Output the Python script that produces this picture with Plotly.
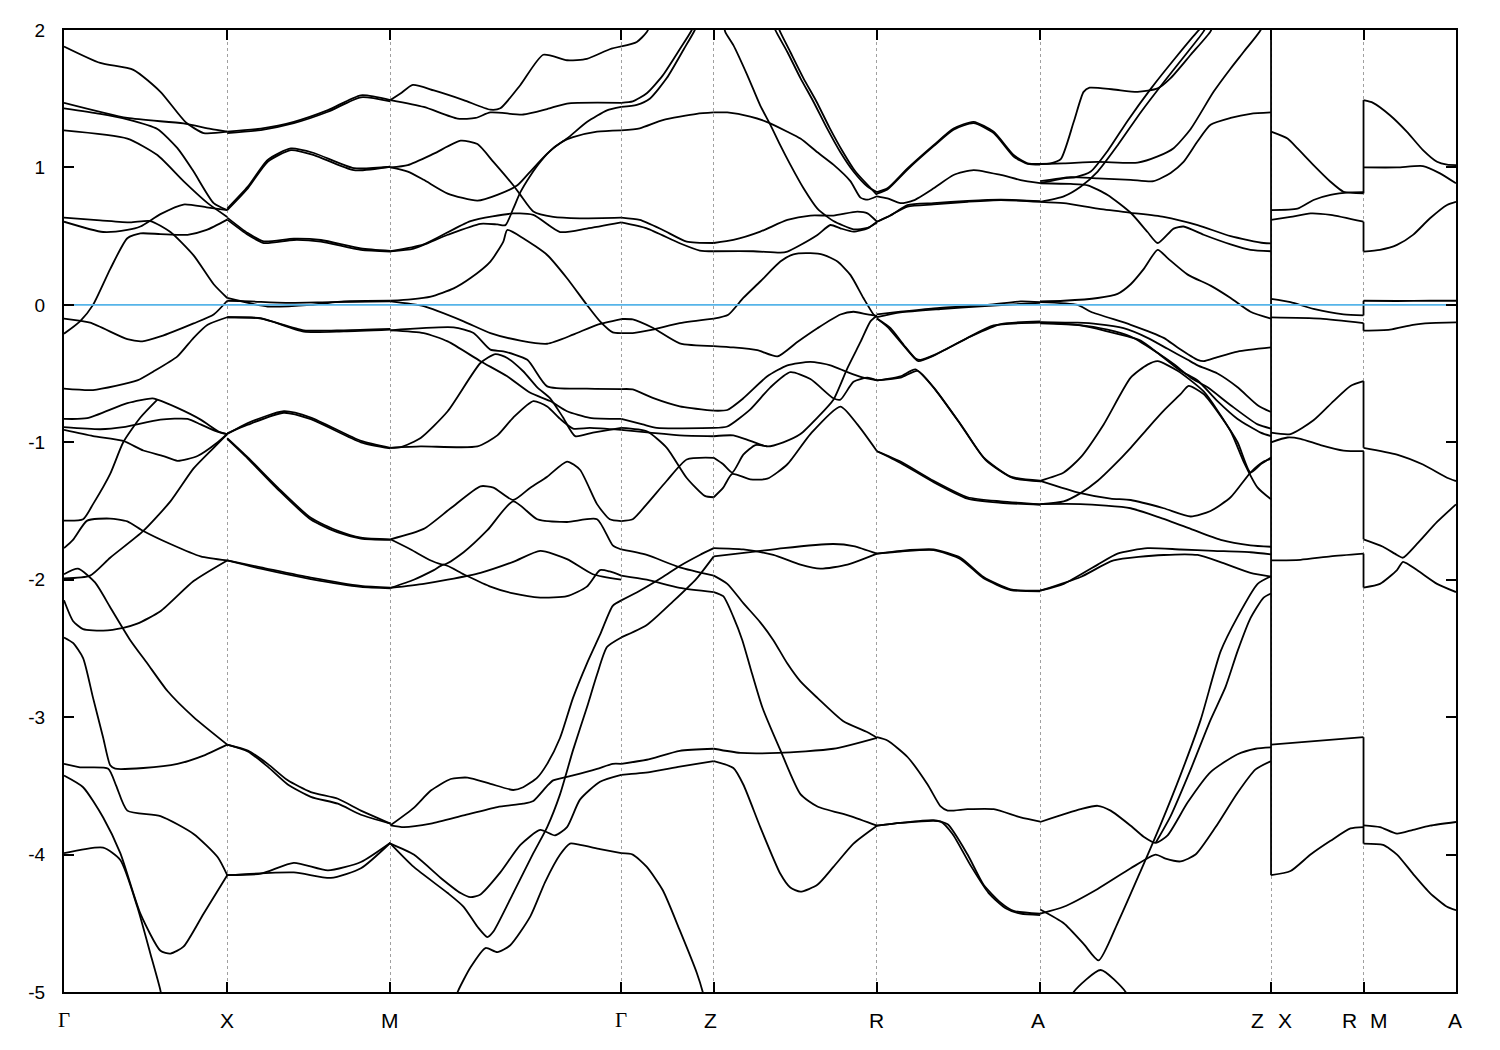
import math
import plotly.graph_objects as go

# ---------------- k-path (path length units, Gamma-X = 1) ----------------
C_RATIO = 0.5666
SEG_LEN = [1.0, 1.0, math.sqrt(2), C_RATIO, 1.0, 1.0, math.sqrt(2), C_RATIO, C_RATIO]
K_NODES = [0.0]
for L in SEG_LEN:
    K_NODES.append(K_NODES[-1] + L)

POINT_LABELS = ["Γ", "X", "M", "Γ", "Z", "R", "A", "Z", "X", "R", "M", "A"]
LABEL_NODE = [0, 1, 2, 3, 4, 5, 6, 7, 7, 8, 8, 9]

Y_TICKS = [2, 1, 0, -1, -2, -3, -4, -5]
Y_TICKTEXT = ["2", "1", "0", "-1", "-2", "-3", "-4", "-5"]

# ---------------- bands per segment: (fraction along segment, energy eV) ----------------
GX = [
    [(0, 1.88), (0.222, 1.76), (0.425, 1.71), (0.591, 1.55), (0.745, 1.33), (0.855, 1.25), (1, 1.26)],
    [(0, 1.47), (0.388, 1.36), (0.732, 1.32), (0.898, 1.28), (1, 1.26)],
    [(0, 1.43), (0.222, 1.39), (0.388, 1.35), (0.572, 1.28), (0.695, 1.14), (0.794, 0.97), (0.917, 0.74), (1, 0.69)],
    [(0, 1.27), (0.388, 1.21), (0.572, 1.09), (0.732, 0.90), (0.88, 0.74), (1, 0.64)],
    [(0, 0.635), (0.222, 0.615), (0.406, 0.60), (0.529, 0.61), (0.652, 0.53), (0.794, 0.36), (0.917, 0.15), (1, 0.05)],
    [(0, 0.605), (0.24, 0.53), (0.388, 0.545), (0.468, 0.57), (0.591, 0.66), (0.732, 0.73), (0.874, 0.71), (1, 0.69)],
    [(0, -0.21), (0.098, -0.12), (0.178, 0.0), (0.283, 0.26), (0.388, 0.485), (0.468, 0.52), (0.591, 0.515), (0.757, 0.51), (0.874, 0.545), (1, 0.62)],
    [(0, -0.10), (0.16, -0.13), (0.388, -0.25), (0.48, -0.265), (0.591, -0.23), (0.794, -0.135), (0.917, -0.07), (1, 0.03)],
    [(0, -0.61), (0.178, -0.62), (0.449, -0.55), (0.548, -0.485), (0.695, -0.375), (0.794, -0.24), (0.88, -0.145), (1, -0.09)],
    [(0, -0.83), (0.142, -0.825), (0.388, -0.715), (0.542, -0.68), (0.572, -0.69), (0.695, -0.75), (0.837, -0.835), (0.96, -0.93), (1, -0.94)],
    [(0, -0.89), (0.222, -0.905), (0.363, -0.89), (0.591, -0.835), (0.757, -0.83), (0.837, -0.87), (0.935, -0.92), (1, -0.94)],
    [(0, -0.91), (0.178, -0.955), (0.363, -0.99), (0.486, -1.06), (0.609, -1.10), (0.695, -1.135), (0.818, -1.10), (0.942, -1.0), (1, -0.94)],
    [(0, -1.57), (0.117, -1.56), (0.178, -1.45), (0.283, -1.23), (0.363, -1.0), (0.468, -0.82), (0.572, -0.69)],
    [(0, -1.77), (0.055, -1.71), (0.142, -1.57), (0.283, -1.555), (0.388, -1.575), (0.486, -1.645), (0.652, -1.74), (0.837, -1.83), (1, -1.86)],
    [(0, -1.99), (0.16, -1.97), (0.283, -1.84), (0.486, -1.645), (0.652, -1.43), (0.794, -1.19), (0.917, -1.04), (1, -0.94)],
    [(0, -1.96), (0.086, -1.92), (0.19, -2.02), (0.283, -2.20), (0.406, -2.44), (0.511, -2.61), (0.634, -2.81), (0.794, -3.0), (1, -3.2)],
    [(0, -2.15), (0.055, -2.30), (0.117, -2.36), (0.24, -2.37), (0.363, -2.35), (0.449, -2.32), (0.591, -2.23), (0.794, -2.01), (1, -1.86)],
    [(0, -2.42), (0.055, -2.46), (0.117, -2.57), (0.178, -2.86), (0.24, -3.15), (0.283, -3.35), (0.314, -3.375), (0.486, -3.37), (0.695, -3.34), (0.855, -3.28), (1, -3.2)],
    [(0, -3.34), (0.098, -3.365), (0.271, -3.375), (0.32, -3.5), (0.388, -3.68), (0.591, -3.72), (0.794, -3.85), (0.942, -4.02), (1, -4.15)],
    [(0, -3.425), (0.117, -3.51), (0.24, -3.73), (0.345, -3.99), (0.468, -4.43), (0.591, -4.70), (0.652, -4.72), (0.732, -4.67), (0.855, -4.43), (1, -4.15)],
    [(0, -3.99), (0.24, -3.95), (0.345, -4.04), (0.449, -4.38), (0.529, -4.72), (0.591, -4.99), (0.62, -5.2)],
]

XM = [
    [(0, 1.26), (0.206, 1.283), (0.408, 1.332), (0.617, 1.417), (0.819, 1.525), (1, 1.49)],
    [(0, 1.25), (0.206, 1.272), (0.408, 1.322), (0.617, 1.405), (0.819, 1.51), (1, 1.48)],
    [(0, 0.69), (0.126, 0.848), (0.248, 1.041), (0.39, 1.126), (0.531, 1.09), (0.776, 0.98), (1, 1.005)],
    [(0, 0.70), (0.126, 0.86), (0.248, 1.055), (0.39, 1.138), (0.531, 1.105), (0.776, 0.995), (1, 1.005)],
    [(0, 0.62), (0.126, 0.51), (0.224, 0.45), (0.408, 0.472), (0.574, 0.46), (0.819, 0.40), (1, 0.388)],
    [(0, 0.635), (0.126, 0.522), (0.224, 0.462), (0.408, 0.482), (0.574, 0.472), (0.819, 0.41), (1, 0.392)],
    [(0, 0.05), (0.248, -0.012), (0.512, 0.0), (0.715, 0.025), (1, 0.03)],
    [(0, 0.03), (0.144, 0.025), (0.359, 0.015), (0.635, 0.02), (1, 0.025)],
    [(0, -0.09), (0.206, -0.097), (0.469, -0.195), (0.715, -0.193), (1, -0.18)],
    [(0, -0.09), (0.206, -0.10), (0.469, -0.185), (0.715, -0.185), (1, -0.175)],
    [(0, -0.94), (0.126, -0.86), (0.347, -0.774), (0.512, -0.82), (0.819, -0.99), (1, -1.04)],
    [(0, -0.935), (0.126, -0.872), (0.347, -0.785), (0.512, -0.832), (0.819, -1.0), (1, -1.045)],
    [(0, -0.97), (0.126, -1.11), (0.31, -1.33), (0.512, -1.55), (0.678, -1.645), (0.819, -1.694), (1, -1.706)],
    [(0, -0.975), (0.126, -1.118), (0.31, -1.342), (0.512, -1.562), (0.678, -1.656), (0.819, -1.70), (1, -1.71)],
    [(0, -1.86), (0.206, -1.91), (0.512, -1.985), (0.819, -2.045), (1, -2.057)],
    [(0, -1.86), (0.206, -1.92), (0.512, -1.995), (0.819, -2.052), (1, -2.062)],
    [(0, -3.2), (0.126, -3.243), (0.248, -3.34), (0.371, -3.46), (0.512, -3.545), (0.678, -3.594), (0.819, -3.68), (1, -3.775)],
    [(0, -3.2), (0.126, -3.25), (0.248, -3.36), (0.371, -3.49), (0.512, -3.58), (0.678, -3.63), (0.819, -3.71), (1, -3.775)],
    [(0, -4.15), (0.206, -4.139), (0.408, -4.06), (0.617, -4.115), (0.819, -4.054), (1, -3.914)],
    [(0, -4.15), (0.408, -4.13), (0.635, -4.17), (0.819, -4.10), (1, -3.914)],
]

MG = [
    [(0, 1.49), (0.045, 1.54), (0.097, 1.60), (0.188, 1.56), (0.317, 1.49), (0.433, 1.42), (0.476, 1.43), (0.563, 1.60), (0.662, 1.82), (0.765, 1.78), (0.851, 1.79), (0.95, 1.86), (1, 1.88)],
    [(0, 1.49), (0.144, 1.44), (0.291, 1.355), (0.369, 1.36), (0.433, 1.40), (0.575, 1.385), (0.679, 1.425), (0.765, 1.465), (1, 1.47)],
    [(0, 1.0), (0.075, 1.017), (0.188, 1.10), (0.304, 1.195), (0.377, 1.17), (0.446, 1.04), (0.532, 0.87), (0.563, 0.80), (0.619, 0.68), (0.705, 0.64), (0.821, 0.63), (1, 0.635)],
    [(0, 1.0), (0.075, 0.97), (0.144, 0.91), (0.248, 0.81), (0.377, 0.758), (0.463, 0.80), (0.55, 0.87), (0.606, 0.97), (0.679, 1.10), (0.748, 1.19), (0.791, 1.22), (0.895, 1.26), (1, 1.27)],
    [(0, 0.39), (0.101, 0.41), (0.248, 0.51), (0.39, 0.59), (0.463, 0.585), (0.498, 0.58), (0.532, 0.70), (0.563, 0.82), (0.606, 0.94), (0.649, 1.04), (0.705, 1.14), (0.765, 1.21), (0.851, 1.33), (0.938, 1.415), (1, 1.44)],
    [(0, 0.39), (0.144, 0.44), (0.347, 0.61), (0.532, 0.665), (0.619, 0.655), (0.735, 0.53), (0.851, 0.555), (1, 0.60)],
    [(0, 0.03), (0.088, 0.04), (0.175, 0.06), (0.274, 0.12), (0.347, 0.195), (0.433, 0.315), (0.489, 0.46), (0.506, 0.545), (0.575, 0.485), (0.679, 0.363), (0.765, 0.194), (0.851, 0.0), (0.908, -0.12), (0.963, -0.2), (1, -0.205)],
    [(0, 0.025), (0.144, -0.01), (0.317, -0.12), (0.433, -0.205), (0.563, -0.26), (0.679, -0.283), (0.791, -0.217), (0.895, -0.145), (1, -0.103)],
    [(0, -0.185), (0.274, -0.164), (0.36, -0.205), (0.433, -0.326), (0.489, -0.338), (0.593, -0.40), (0.679, -0.593), (0.851, -0.61), (1, -0.613)],
    [(0, -0.185), (0.144, -0.205), (0.248, -0.266), (0.39, -0.41), (0.506, -0.52), (0.606, -0.64), (0.692, -0.70), (0.765, -0.774), (0.864, -0.822), (1, -0.83)],
    [(0, -1.04), (0.045, -1.035), (0.131, -0.968), (0.248, -0.774), (0.39, -0.423), (0.455, -0.358), (0.506, -0.387), (0.575, -0.483), (0.636, -0.60), (0.692, -0.68), (0.748, -0.82), (0.8, -0.955), (0.877, -0.93), (1, -0.895)],
    [(0, -1.04), (0.131, -1.03), (0.377, -1.03), (0.463, -0.95), (0.532, -0.82), (0.619, -0.70), (0.679, -0.74), (0.735, -0.83), (0.791, -0.90), (0.864, -0.895), (1, -0.91)],
    [(0, -1.706), (0.144, -1.63), (0.261, -1.48), (0.39, -1.32), (0.446, -1.33), (0.532, -1.42), (0.606, -1.33), (0.679, -1.25), (0.765, -1.14), (0.821, -1.2), (0.895, -1.45), (0.95, -1.56), (1, -1.573)],
    [(0, -1.706), (0.088, -1.78), (0.175, -1.86), (0.231, -1.89), (0.317, -1.80), (0.42, -1.64), (0.532, -1.43), (0.636, -1.56), (0.765, -1.58), (0.895, -1.56), (0.963, -1.75), (1, -1.78)],
    [(0, -2.06), (0.144, -2.03), (0.248, -2.0), (0.39, -1.95), (0.532, -1.87), (0.649, -1.79), (0.765, -1.85), (0.877, -1.96), (1, -2.0)],
    [(0, -2.06), (0.101, -2.0), (0.188, -1.93), (0.231, -1.89), (0.317, -1.96), (0.433, -2.05), (0.532, -2.1), (0.649, -2.13), (0.765, -2.12), (0.851, -2.05), (0.908, -1.93), (0.95, -1.94), (1, -1.97)],
    [(0, -3.787), (0.058, -3.80), (0.175, -3.775), (0.317, -3.715), (0.463, -3.654), (0.575, -3.63), (0.619, -3.61), (0.679, -3.50), (0.705, -3.46), (0.791, -3.424), (0.895, -3.376), (0.963, -3.34), (1, -3.34)],
    [(0, -3.787), (0.101, -3.66), (0.175, -3.534), (0.261, -3.45), (0.334, -3.44), (0.433, -3.485), (0.532, -3.53), (0.575, -3.51), (0.636, -3.44), (0.679, -3.34), (0.735, -3.15), (0.791, -2.86), (0.851, -2.61), (0.908, -2.40), (0.963, -2.19), (1, -2.15)],
    [(0, -3.92), (0.101, -4.09), (0.248, -4.28), (0.317, -4.38), (0.377, -4.525), (0.42, -4.60), (0.446, -4.56), (0.532, -4.28), (0.619, -3.99), (0.679, -3.80), (0.735, -3.56), (0.791, -3.24), (0.851, -2.93), (0.895, -2.69), (0.938, -2.49), (1, -2.42)],
    [(0, -3.92), (0.101, -4.0), (0.218, -4.17), (0.304, -4.28), (0.347, -4.31), (0.39, -4.29), (0.476, -4.13), (0.563, -3.93), (0.649, -3.82), (0.713, -3.86), (0.765, -3.80), (0.821, -3.6), (0.908, -3.47), (1, -3.42)],
    [(0.261, -5.15), (0.291, -5.0), (0.347, -4.82), (0.412, -4.68), (0.463, -4.71), (0.519, -4.66), (0.606, -4.45), (0.67, -4.2), (0.735, -4.0), (0.778, -3.92), (0.821, -3.93), (0.908, -3.96), (1, -3.99)],
]

GZ = [
    [(0, 1.88), (0.168, 1.913), (0.276, 1.985), (0.32, 2.05)],
    [(0, 1.47), (0.124, 1.48), (0.276, 1.54), (0.449, 1.67), (0.632, 1.86), (0.762, 2.0), (0.816, 2.1)],
    [(0, 1.44), (0.168, 1.455), (0.308, 1.50), (0.492, 1.65), (0.676, 1.86), (0.795, 2.0), (0.849, 2.1)],
    [(0, 1.27), (0.2, 1.285), (0.449, 1.345), (0.816, 1.39), (1, 1.40)],
    [(0, 0.635), (0.2, 0.618), (0.449, 0.545), (0.708, 0.46), (1, 0.45)],
    [(0, 0.60), (0.276, 0.557), (0.632, 0.448), (0.849, 0.395), (1, 0.39)],
    [(0, -0.103), (0.124, -0.106), (0.34, -0.167), (0.632, -0.28), (1, -0.30)],
    [(0, -0.205), (0.124, -0.205), (0.34, -0.18), (0.632, -0.133), (1, -0.10)],
    [(0, -0.613), (0.124, -0.615), (0.34, -0.677), (0.632, -0.738), (1, -0.77)],
    [(0, -0.83), (0.232, -0.87), (0.384, -0.895), (1, -0.895)],
    [(0, -0.895), (0.276, -0.92), (0.492, -1.04), (0.708, -1.26), (0.903, -1.39), (1, -1.40)],
    [(0, -0.91), (0.308, -0.93), (0.632, -0.95), (1, -0.956)],
    [(0, -1.573), (0.124, -1.56), (0.276, -1.45), (0.492, -1.28), (0.708, -1.125), (1, -1.113)],
    [(0, -1.78), (0.276, -1.82), (0.632, -1.91), (1, -1.97)],
    [(0, -1.97), (0.276, -2.0), (0.632, -2.06), (1, -2.09)],
    [(0, -2.15), (0.2, -2.08), (0.449, -1.98), (0.632, -1.9), (0.849, -1.82), (1, -1.77)],
    [(0, -2.42), (0.276, -2.33), (0.557, -2.16), (0.816, -1.99), (1, -1.83)],
    [(0, -3.34), (0.276, -3.31), (0.632, -3.245), (1, -3.23)],
    [(0, -3.42), (0.308, -3.40), (0.632, -3.36), (1, -3.32)],
    [(0, -3.99), (0.124, -4.0), (0.276, -4.09), (0.449, -4.26), (0.632, -4.55), (0.816, -4.86), (0.881, -5.0), (0.914, -5.1)],
]

ZR = [
    [(0.058, 2.05), (0.071, 1.985), (0.12, 1.89), (0.206, 1.67), (0.285, 1.45), (0.347, 1.31), (0.408, 1.16), (0.469, 1.02), (0.549, 0.85), (0.635, 0.70), (0.696, 0.64), (0.733, 0.61), (0.856, 0.55), (0.942, 0.56), (1, 0.60)],
    [(0.365, 2.05), (0.377, 2.0), (0.451, 1.84), (0.531, 1.65), (0.61, 1.48), (0.696, 1.28), (0.776, 1.11), (0.856, 0.97), (0.942, 0.86), (1, 0.82)],
    [(0.39, 2.05), (0.402, 2.0), (0.469, 1.84), (0.549, 1.65), (0.629, 1.48), (0.709, 1.29), (0.788, 1.12), (0.868, 0.97), (0.948, 0.865), (1, 0.80)],
    [(0, 1.40), (0.083, 1.40), (0.224, 1.37), (0.328, 1.33), (0.451, 1.26), (0.531, 1.21), (0.635, 1.11), (0.733, 1.02), (0.837, 0.90), (0.899, 0.78), (0.942, 0.765), (1, 0.79)],
    [(0, 0.45), (0.12, 0.472), (0.285, 0.533), (0.451, 0.618), (0.592, 0.65), (0.733, 0.65), (0.88, 0.678), (0.942, 0.666), (1, 0.605)],
    [(0, 0.39), (0.242, 0.39), (0.408, 0.38), (0.451, 0.388), (0.531, 0.436), (0.635, 0.509), (0.715, 0.581), (0.776, 0.557), (0.856, 0.533), (0.942, 0.557), (1, 0.605)],
    [(0, -0.10), (0.089, -0.072), (0.181, 0.05), (0.285, 0.17), (0.408, 0.315), (0.488, 0.368), (0.592, 0.376), (0.672, 0.364), (0.758, 0.315), (0.837, 0.218), (0.917, 0.05), (0.979, -0.07), (1, -0.09)],
    [(0, -0.30), (0.12, -0.31), (0.267, -0.33), (0.39, -0.375), (0.512, -0.27), (0.635, -0.17), (0.776, -0.07), (0.856, -0.05), (0.942, -0.07), (1, -0.08)],
    [(0, -0.77), (0.083, -0.765), (0.181, -0.68), (0.328, -0.52), (0.451, -0.44), (0.592, -0.415), (0.715, -0.44), (0.819, -0.49), (0.917, -0.53), (1, -0.55)],
    [(0, -0.895), (0.083, -0.885), (0.224, -0.76), (0.347, -0.6), (0.469, -0.49), (0.592, -0.54), (0.733, -0.68), (0.776, -0.69), (0.856, -0.56), (0.942, -0.53), (1, -0.55)],
    [(0, -0.956), (0.12, -0.95), (0.224, -0.99), (0.328, -1.03), (0.426, -1.0), (0.531, -0.94), (0.635, -0.82), (0.733, -0.69), (0.819, -0.46), (0.899, -0.27), (0.96, -0.12), (1, -0.08)],
    [(0, -1.113), (0.058, -1.16), (0.113, -1.22), (0.181, -1.09), (0.255, -1.02), (0.328, -1.03)],
    [(0, -1.40), (0.058, -1.33), (0.113, -1.23), (0.224, -1.27), (0.328, -1.265), (0.451, -1.16), (0.592, -0.94), (0.776, -0.74), (0.88, -0.87), (1, -1.065)],
    [(0, -1.77), (0.181, -1.78), (0.365, -1.82), (0.531, -1.89), (0.653, -1.92), (0.819, -1.89), (1, -1.81)],
    [(0, -1.83), (0.224, -1.80), (0.426, -1.77), (0.733, -1.74), (0.856, -1.755), (1, -1.81)],
    [(0, -1.97), (0.083, -2.03), (0.181, -2.17), (0.285, -2.31), (0.365, -2.44), (0.451, -2.61), (0.531, -2.74), (0.635, -2.86), (0.794, -3.03), (0.942, -3.11), (1, -3.15)],
    [(0, -2.09), (0.058, -2.12), (0.12, -2.27), (0.175, -2.44), (0.224, -2.64), (0.298, -2.93), (0.408, -3.24), (0.531, -3.56), (0.635, -3.65), (0.837, -3.72), (1, -3.79)],
    [(0, -3.23), (0.163, -3.26), (0.396, -3.26), (0.733, -3.23), (1, -3.15)],
    [(0, -3.32), (0.12, -3.37), (0.181, -3.49), (0.285, -3.80), (0.408, -4.14), (0.469, -4.24), (0.531, -4.27), (0.635, -4.22), (0.733, -4.09), (0.856, -3.92), (1, -3.79)],
]

RA = [
    [(0, 0.82), (0.064, 0.848), (0.187, 0.993), (0.347, 1.162), (0.469, 1.283), (0.592, 1.332), (0.715, 1.259), (0.837, 1.09), (0.923, 1.03), (1, 1.025)],
    [(0, 0.81), (0.064, 0.84), (0.187, 0.985), (0.347, 1.155), (0.469, 1.275), (0.592, 1.322), (0.715, 1.25), (0.837, 1.08), (0.923, 1.025), (1, 1.02)],
    [(0, 0.79), (0.064, 0.775), (0.144, 0.74), (0.224, 0.76), (0.347, 0.848), (0.469, 0.945), (0.592, 0.981), (0.758, 0.945), (0.88, 0.908), (1, 0.885)],
    [(0, 0.605), (0.064, 0.64), (0.187, 0.715), (0.347, 0.731), (0.555, 0.75), (0.758, 0.763), (1, 0.75)],
    [(0, 0.605), (0.083, 0.65), (0.187, 0.725), (0.347, 0.74), (0.555, 0.756), (0.758, 0.765), (1, 0.755)],
    [(0, -0.07), (0.144, -0.05), (0.347, -0.025), (0.678, 0.0), (0.88, 0.025), (1, 0.02)],
    [(0, -0.09), (0.144, -0.055), (0.39, -0.03), (0.635, -0.01), (1, 0.015)],
    [(0, -0.10), (0.064, -0.16), (0.144, -0.27), (0.224, -0.38), (0.255, -0.41), (0.347, -0.37), (0.555, -0.24), (0.715, -0.15), (1, -0.13)],
    [(0, -0.10), (0.083, -0.17), (0.163, -0.29), (0.236, -0.39), (0.267, -0.40), (0.359, -0.36), (0.574, -0.23), (0.758, -0.14), (1, -0.12)],
    [(0, -0.55), (0.144, -0.53), (0.248, -0.48), (0.347, -0.6), (0.512, -0.87), (0.653, -1.11), (0.819, -1.25), (1, -1.28)],
    [(0, -0.55), (0.144, -0.52), (0.236, -0.47), (0.359, -0.62), (0.525, -0.89), (0.666, -1.13), (0.831, -1.26), (1, -1.285)],
    [(0, -1.065), (0.144, -1.14), (0.347, -1.28), (0.555, -1.40), (0.758, -1.43), (1, -1.45)],
    [(0, -1.065), (0.144, -1.15), (0.347, -1.29), (0.555, -1.41), (0.758, -1.44), (1, -1.455)],
    [(0, -1.81), (0.144, -1.79), (0.347, -1.78), (0.512, -1.84), (0.653, -1.98), (0.819, -2.07), (1, -2.08)],
    [(0, -1.81), (0.144, -1.795), (0.347, -1.785), (0.512, -1.85), (0.653, -1.99), (0.819, -2.075), (1, -2.085)],
    [(0, -3.146), (0.064, -3.17), (0.187, -3.29), (0.31, -3.49), (0.39, -3.65), (0.433, -3.68), (0.555, -3.67), (0.715, -3.67), (0.88, -3.73), (1, -3.76)],
    [(0, -3.79), (0.144, -3.77), (0.347, -3.75), (0.433, -3.78), (0.555, -4.0), (0.653, -4.22), (0.758, -4.35), (0.837, -4.41), (1, -4.43)],
    [(0, -3.79), (0.144, -3.77), (0.39, -3.76), (0.463, -3.85), (0.574, -4.08), (0.684, -4.28), (0.788, -4.39), (0.88, -4.43), (1, -4.44)],
]

AZ = [
    [(0, 1.025), (0.045, 1.03), (0.089, 1.06), (0.145, 1.33), (0.188, 1.55), (0.214, 1.58), (0.318, 1.567), (0.422, 1.55), (0.509, 1.575), (0.565, 1.65), (0.652, 1.82), (0.738, 1.99), (0.751, 2.05)],
    [(0, 1.025), (0.102, 1.03), (0.249, 1.04), (0.422, 1.035), (0.509, 1.08), (0.578, 1.14), (0.652, 1.28), (0.751, 1.55), (0.825, 1.72), (0.881, 1.84), (0.955, 2.0), (0.963, 2.05)],
    [(0, 0.90), (0.132, 0.93), (0.249, 0.92), (0.392, 0.91), (0.491, 0.90), (0.565, 0.96), (0.621, 1.04), (0.682, 1.19), (0.738, 1.31), (0.825, 1.36), (0.911, 1.39), (1, 1.40)],
    [(0, 0.75), (0.102, 0.79), (0.175, 0.86), (0.249, 0.97), (0.335, 1.16), (0.435, 1.40), (0.535, 1.62), (0.639, 1.84), (0.708, 1.99), (0.725, 2.05)],
    [(0, 0.885), (0.102, 0.92), (0.154, 0.93), (0.219, 0.97), (0.292, 1.12), (0.379, 1.34), (0.478, 1.57), (0.587, 1.80), (0.682, 1.99), (0.738, 2.08)],
    [(0, 0.75), (0.102, 0.74), (0.249, 0.70), (0.392, 0.67), (0.535, 0.64), (0.682, 0.58), (0.825, 0.50), (0.968, 0.45), (1, 0.448)],
    [(0, 0.885), (0.132, 0.88), (0.206, 0.87), (0.292, 0.80), (0.392, 0.67), (0.465, 0.53), (0.509, 0.45), (0.578, 0.555), (0.621, 0.57), (0.708, 0.51), (0.825, 0.44), (0.911, 0.40), (1, 0.39)],
    [(0, 0.025), (0.102, 0.03), (0.249, 0.05), (0.335, 0.08), (0.392, 0.15), (0.448, 0.26), (0.509, 0.40), (0.552, 0.34), (0.639, 0.22), (0.738, 0.14), (0.825, 0.05), (0.911, -0.05), (1, -0.10)],
    [(0, 0.02), (0.162, 0.0), (0.219, -0.05), (0.392, -0.145), (0.535, -0.24), (0.595, -0.31), (0.682, -0.40), (0.708, -0.41), (0.768, -0.38), (0.855, -0.34), (1, -0.31)],
    [(0, -0.125), (0.162, -0.13), (0.249, -0.14), (0.361, -0.17), (0.465, -0.24), (0.552, -0.32), (0.639, -0.40), (0.682, -0.44), (0.768, -0.50), (0.855, -0.60), (0.942, -0.73), (1, -0.78)],
    [(0, -0.13), (0.162, -0.145), (0.292, -0.18), (0.392, -0.23), (0.491, -0.33), (0.578, -0.43), (0.652, -0.53), (0.725, -0.60), (0.825, -0.73), (0.942, -0.87), (1, -0.90)],
    [(0, -0.135), (0.175, -0.15), (0.379, -0.23), (0.435, -0.26), (0.509, -0.35), (0.608, -0.48), (0.682, -0.55), (0.768, -0.70), (0.855, -0.83), (0.955, -0.93), (1, -0.955)],
    [(0, -1.28), (0.102, -1.22), (0.175, -1.11), (0.275, -0.87), (0.392, -0.53), (0.465, -0.435), (0.509, -0.41), (0.595, -0.48), (0.708, -0.63), (0.825, -0.92), (0.881, -1.14), (0.942, -1.33), (1, -1.415)],
    [(0, -1.45), (0.102, -1.43), (0.175, -1.37), (0.249, -1.28), (0.318, -1.17), (0.392, -1.04), (0.465, -0.90), (0.535, -0.77), (0.608, -0.65), (0.643, -0.59), (0.708, -0.65), (0.786, -0.82), (0.855, -1.0), (0.911, -1.22), (0.955, -1.16), (1, -1.11)],
    [(0, -1.28), (0.175, -1.37), (0.305, -1.41), (0.392, -1.42), (0.535, -1.48), (0.652, -1.54), (0.738, -1.50), (0.825, -1.40), (0.911, -1.22), (0.968, -1.14), (1, -1.12)],
    [(0, -1.45), (0.175, -1.45), (0.392, -1.48), (0.522, -1.55), (0.652, -1.63), (0.782, -1.71), (0.911, -1.75), (1, -1.76)],
    [(0, -2.08), (0.102, -2.03), (0.249, -1.89), (0.335, -1.81), (0.465, -1.77), (0.608, -1.78), (0.751, -1.79), (0.911, -1.80), (1, -1.815)],
    [(0, -2.08), (0.175, -1.98), (0.318, -1.86), (0.535, -1.82), (0.682, -1.82), (0.794, -1.88), (0.911, -1.95), (1, -1.977)],
    [(0, -3.763), (0.175, -3.67), (0.249, -3.645), (0.305, -3.68), (0.392, -3.79), (0.448, -3.87), (0.5, -3.915), (0.552, -3.86), (0.639, -3.62), (0.738, -3.40), (0.855, -3.27), (0.933, -3.23), (1, -3.22)],
    [(0, -4.43), (0.102, -4.38), (0.249, -4.25), (0.392, -4.10), (0.5, -4.0), (0.543, -4.03), (0.608, -4.05), (0.673, -4.0), (0.76, -3.80), (0.855, -3.55), (0.933, -3.38), (1, -3.32)],
    [(0, -4.40), (0.102, -4.50), (0.188, -4.65), (0.253, -4.77), (0.335, -4.50), (0.435, -4.12), (0.522, -3.78), (0.608, -3.42), (0.695, -3.02), (0.782, -2.52), (0.855, -2.27), (0.942, -2.03), (1, -1.975)],
    [(0.5, -3.915), (0.565, -3.72), (0.652, -3.38), (0.738, -3.02), (0.803, -2.78), (0.855, -2.52), (0.911, -2.28), (0.968, -2.13), (1, -2.10)],
    [(0.123, -5.1), (0.145, -5.0), (0.262, -4.84), (0.37, -5.0), (0.392, -5.1)],
]

XR = [
    [(0, 1.26), (0.178, 1.21), (0.286, 1.138), (0.459, 1.017), (0.643, 0.896), (0.784, 0.823), (1, 0.811)],
    [(0, 0.69), (0.286, 0.70), (0.459, 0.763), (0.643, 0.80), (0.859, 0.818), (1, 0.82)],
    [(0, 0.618), (0.211, 0.64), (0.427, 0.666), (0.643, 0.655), (1, 0.605)],
    [(0, 0.044), (0.211, 0.02), (0.459, -0.03), (0.784, -0.07), (1, -0.077)],
    [(0, -0.091), (0.535, -0.10), (1, -0.133)],
    [(0, -0.93), (0.211, -0.94), (0.459, -0.84), (0.676, -0.70), (0.859, -0.59), (1, -0.555)],
    [(0, -1.0), (0.178, -0.965), (0.319, -0.975), (0.535, -1.02), (0.784, -1.06), (1, -1.065)],
    [(0, -1.859), (0.319, -1.855), (0.643, -1.83), (1, -1.81)],
    [(0, -3.20), (1, -3.146)],
    [(0, -4.15), (0.211, -4.12), (0.427, -4.0), (0.643, -3.9), (0.859, -3.81), (1, -3.80)],
]

MA = [
    [(0, 1.489), (0.103, 1.47), (0.286, 1.38), (0.47, 1.259), (0.643, 1.126), (0.795, 1.041), (0.903, 1.02), (1, 1.017)],
    [(0, 1.0), (0.362, 1.0), (0.643, 1.01), (0.827, 0.957), (1, 0.884)],
    [(0, 0.388), (0.178, 0.40), (0.362, 0.436), (0.535, 0.509), (0.719, 0.63), (0.903, 0.727), (1, 0.75)],
    [(0, 0.03), (0.362, 0.028), (0.719, 0.03), (1, 0.03)],
    [(0, -0.188), (0.286, -0.18), (0.535, -0.145), (0.719, -0.133), (1, -0.128)],
    [(0, -1.04), (0.362, -1.089), (0.643, -1.162), (0.903, -1.258), (1, -1.282)],
    [(0, -1.706), (0.211, -1.76), (0.362, -1.82), (0.427, -1.84), (0.578, -1.74), (0.795, -1.58), (1, -1.452)],
    [(0, -2.057), (0.178, -2.03), (0.362, -1.93), (0.427, -1.87), (0.578, -1.93), (0.795, -2.03), (1, -2.09)],
    [(0, -3.787), (0.178, -3.80), (0.362, -3.848), (0.535, -3.82), (0.719, -3.79), (1, -3.763)],
    [(0, -3.92), (0.211, -3.93), (0.362, -4.0), (0.535, -4.14), (0.719, -4.28), (0.903, -4.38), (1, -4.405)],
]

# discontinuities: energies joined by vertical steps (value at end of previous path, value at start of next)
JUMP_ZX = [(2.1, -4.15)]
JUMP_RM = [(1.49, 0.811), (0.605, 0.388), (0.03, -0.077), (-0.133, -0.188),
           (-0.555, -1.04), (-1.065, -1.706), (-1.81, -2.057), (-3.146, -3.92)]

SEGMENTS = [GX, XM, MG, GZ, ZR, RA, AZ, XR, MA]

# ---------------- build figure ----------------
xs, ys = [], []
for si, bands in enumerate(SEGMENTS):
    k0, k1 = K_NODES[si], K_NODES[si + 1]
    for band in bands:
        for t, e in band:
            xs.append(k0 + t * (k1 - k0))
            ys.append(e)
        xs.append(None)
        ys.append(None)

fig = go.Figure()
fig.add_trace(go.Scatter(x=xs, y=ys, mode="lines",
                         line=dict(color="black", width=1.8, shape="spline", smoothing=0.6),
                         hoverinfo="skip", showlegend=False))

vx, vy = [], []
for node, jumps in ((7, JUMP_ZX), (8, JUMP_RM)):
    for a, b in jumps:
        vx += [K_NODES[node], K_NODES[node], None]
        vy += [a, b, None]
fig.add_trace(go.Scatter(x=vx, y=vy, mode="lines", line=dict(color="black", width=1.8),
                         hoverinfo="skip", showlegend=False))

fig.add_trace(go.Scatter(x=[K_NODES[0], K_NODES[-1]], y=[0, 0], mode="lines",
                         line=dict(color="rgb(86,180,233)", width=1.6),
                         hoverinfo="skip", showlegend=False))

label_shift = [0, 0, 0, 0, -3, 0, -2, -14, 14, -14, 15, -1]
for txt, node, sh in zip(POINT_LABELS, LABEL_NODE, label_shift):
    fam = "Liberation Serif" if txt == "Γ" else "Liberation Sans"
    fig.add_annotation(x=K_NODES[node], y=0, xref="x", yref="paper", text=txt,
                       showarrow=False, xanchor="center", yanchor="middle",
                       xshift=sh, yshift=-28,
                       font=dict(family=fam, size=21, color="black"))

fig.update_layout(
    width=1500, height=1050,
    margin=dict(l=56, r=52, t=20, b=66),
    paper_bgcolor="white", plot_bgcolor="white",
    showlegend=False,
    font=dict(family="Liberation Sans", size=19, color="black"),
)
fig.update_xaxes(range=[K_NODES[0], K_NODES[-1]], tickvals=K_NODES, showticklabels=False,
                 ticks="inside", ticklen=10, tickwidth=1.5, tickcolor="black",
                 showline=True, linecolor="black", linewidth=2, mirror="allticks",
                 showgrid=True, gridcolor="#a0a0a0", gridwidth=1, griddash="dot",
                 zeroline=False)
fig.update_yaxes(range=[-5, 2], tickvals=Y_TICKS, ticktext=Y_TICKTEXT,
                 ticks="inside", ticklen=10, tickwidth=1.5, tickcolor="black",
                 showline=True, linecolor="black", linewidth=2, mirror="allticks",
                 showgrid=False, zeroline=False, ticklabelstandoff=13,
                 tickfont=dict(family="Liberation Sans", size=19, color="black"))

fig.write_html("out.html")
